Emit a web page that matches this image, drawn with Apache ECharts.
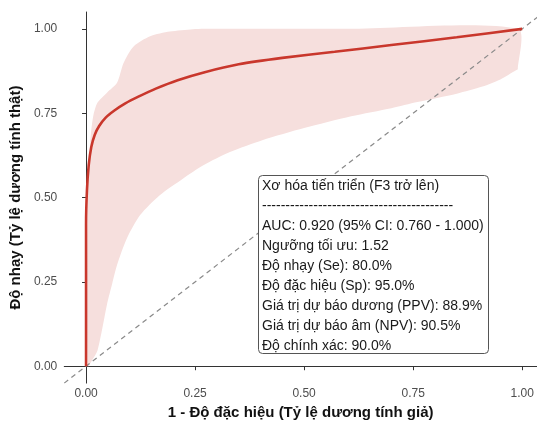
<!DOCTYPE html>
<html><head><meta charset="utf-8">
<script src="https://cdn.jsdelivr.net/npm/echarts@6/dist/echarts.min.js"></script>
<style>html,body{margin:0;padding:0;background:#fff}#c{width:537px;height:425px}</style>
</head><body><div id="c"></div>
<script>
// ROC curve (1 - specificity, sensitivity)
const rocFpr = [0, 0, 0.002, 0.006, 0.012, 0.02, 0.03, 0.045, 0.065, 0.09, 0.12, 0.16, 0.21, 0.27, 0.35, 0.45, 0.57, 0.7, 0.85, 1.0];
const rocTpr = [0, 0.42, 0.52, 0.595, 0.65, 0.686, 0.712, 0.737, 0.758, 0.779, 0.799, 0.823, 0.848, 0.871, 0.895, 0.914, 0.932, 0.952, 0.975, 1.0];
// confidence band
const ciUpperX = [0.004, 0.008, 0.012, 0.017, 0.026, 0.048, 0.071, 0.086, 0.109, 0.147, 0.192, 0.245, 0.3, 0.6, 0.99];
const ciUpperY = [0.55, 0.64, 0.70, 0.745, 0.781, 0.811, 0.84, 0.899, 0.948, 0.978, 0.992, 0.999, 1.0, 1.0, 1.0];
const ciLowerX = [0.004, 0.015, 0.026, 0.037, 0.048, 0.06, 0.071, 0.094, 0.124, 0.169, 0.222, 0.268, 0.33, 0.404, 0.5, 0.608, 0.7, 0.76, 0.85, 0.909, 0.95, 0.986, 0.99];
const ciLowerY = [0.0, 0.02, 0.046, 0.11, 0.183, 0.245, 0.3, 0.38, 0.448, 0.507, 0.556, 0.595, 0.635, 0.67, 0.706, 0.741, 0.765, 0.783, 0.808, 0.829, 0.85, 0.877, 0.88];
const diagX = [-0.05, 1.05];
const diagY = [-0.05, 1.05];
const tickValues = [0, 0.25, 0.5, 0.75, 1.0];
const xTitle = '1 - Độ đặc hiệu (Tỷ lệ dương tính giả)';
const yTitle = 'Độ nhạy (Tỷ lệ dương tính thật)';
const boxLines = [
  'Xơ hóa tiến triển (F3 trở lên)',
  '-----------------------------------------',
  'AUC: 0.920 (95% CI: 0.760 - 1.000)',
  'Ngưỡng tối ưu: 1.52',
  'Độ nhạy (Se): 80.0%',
  'Độ đặc hiệu (Sp): 95.0%',
  'Giá trị dự báo dương (PPV): 88.9%',
  'Giá trị dự báo âm (NPV): 90.5%',
  'Độ chính xác: 90.0%'
];

const FONT = '"Liberation Sans", Arial, sans-serif';
const chart = echarts.init(document.getElementById('c'), null, {renderer: 'canvas'});
const axisCommon = {
  type: 'value',
  splitLine: {show: false},
  axisLine: {show: true, lineStyle: {color: '#333', width: 1}},
  axisTick: {show: true, length: 4, customValues: tickValues, lineStyle: {color: '#333'}},
  axisLabel: {customValues: tickValues, color: '#4d4d4d', fontSize: 12, fontFamily: FONT,
              formatter: v => v.toFixed(2)},
  nameLocation: 'middle',
  nameTextStyle: {fontWeight: 'bold', fontSize: 15, color: '#111', fontFamily: FONT}
};
chart.setOption({
  animation: false,
  grid: {left: 60, right: 0, top: 12, bottom: 38},
  xAxis: Object.assign({}, axisCommon, {min: -0.05, max: 1.034, name: xTitle, nameGap: 18,
    axisLabel: Object.assign({}, axisCommon.axisLabel, {margin: 5})}),
  yAxis: Object.assign({}, axisCommon, {min: -0.05, max: 1.05, name: yTitle, nameGap: 31,
    axisLabel: Object.assign({}, axisCommon.axisLabel, {margin: 7})}),
  series: [
    {
      type: 'custom', silent: true, clip: true, data: [[0, 0]],
      renderItem: function (params, api) {
        const pts = [];
        for (let i = 0; i < ciUpperX.length; i++) pts.push(api.coord([ciUpperX[i], ciUpperY[i]]));
        for (let i = ciLowerX.length - 1; i >= 0; i--) pts.push(api.coord([ciLowerX[i], ciLowerY[i]]));
        return {type: 'polygon', shape: {points: pts, smooth: 0.25}, style: {fill: '#f6dfdd'}};
      }
    },
    {
      type: 'line', silent: true, showSymbol: false, clip: true,
      data: diagX.map((x, i) => [x, diagY[i]]),
      lineStyle: {color: '#8a8a8a', width: 1.2, type: [5, 4]}
    },
    {
      type: 'line', silent: true, showSymbol: false, smooth: 0.15,
      data: rocFpr.map((x, i) => [x, rocTpr[i]]),
      lineStyle: {color: '#c9372c', width: 2.6}
    }
  ],
  graphic: [
    {type: 'rect', left: 258, top: 175, shape: {width: 230, height: 178, r: 4},
     style: {fill: '#fff', stroke: '#555', lineWidth: 1}, z: 100},
    {type: 'text', left: 262, top: 176, z: 101,
     style: {text: boxLines.join('\n'), fill: '#1a1a1a', fontSize: 14, fontFamily: FONT, lineHeight: 20}}
  ]
});
</script></body></html>
